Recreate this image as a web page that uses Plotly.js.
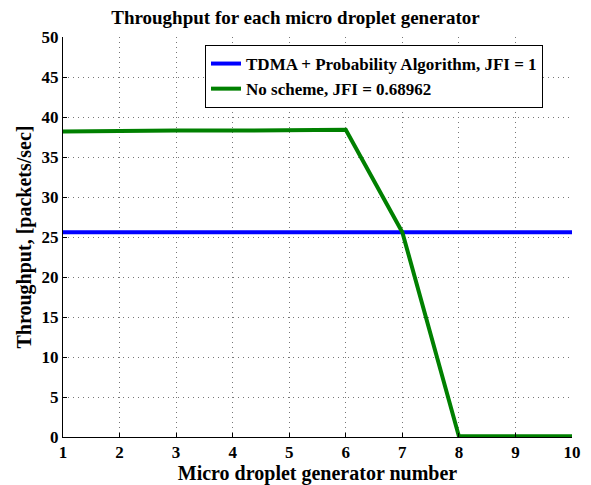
<!DOCTYPE html>
<html><head><meta charset="utf-8">
<script src="https://cdn.plot.ly/plotly-3.0.1.min.js"></script>
<style>body{margin:0;background:#fff}#c{width:591px;height:485px}</style>
</head><body><div id="c"></div>
<script>
const generators = [1,2,3,4,5,6,7,8,9,10];
const tdmaThroughput = [25.6,25.6,25.6,25.6,25.6,25.6,25.6,25.6,25.6,25.6];
const noSchemeThroughput = [38.2,38.3,38.3,38.3,38.3,38.4,25.6,0.1,0.1,0.1];
const xTicks = [1,2,3,4,5,6,7,8,9,10];
const yTicks = [0,5,10,15,20,25,30,35,40,45,50];
const F = 'Liberation Serif';
const traces = [
 {x:generators,y:tdmaThroughput,mode:'lines',name:'<b>TDMA + Probability Algorithm, JFI = 1</b>',line:{color:'#0000ff',width:4}},
 {x:generators,y:noSchemeThroughput,mode:'lines',name:'<b>No scheme, JFI = 0.68962</b>',line:{color:'#008000',width:4}}
];
const layout = {
 width:591,height:485,
 margin:{l:63,r:19,t:37,b:48},
 paper_bgcolor:'#fff',plot_bgcolor:'#fff',
 font:{family:F,color:'#000'},
 title:{text:'<b>Throughput for each micro droplet generator</b>',font:{size:19,family:F,color:'#000'},x:0.5,xanchor:'center',y:0.965,yanchor:'middle'},
 xaxis:{range:[1,10],tickvals:xTicks,ticktext:xTicks.map(v=>'<b>'+v+'</b>'),showgrid:true,gridcolor:'#777',griddash:'1px,4px',gridwidth:1,
   showline:true,linecolor:'#000',linewidth:1,ticks:'inside',ticklen:4,tickcolor:'#000',zeroline:false,
   tickfont:{size:17,family:F,color:'#000'},title:{text:'<b>Micro droplet generator number</b>',font:{size:20,family:F},standoff:0}},
 yaxis:{range:[0,50],tickvals:yTicks,ticktext:yTicks.map(v=>'<b>'+v+'</b>'),showgrid:true,gridcolor:'#777',griddash:'1px,4px',gridwidth:1,
   showline:true,linecolor:'#000',linewidth:1,ticks:'inside',ticklen:4,tickcolor:'#000',zeroline:false,
   tickfont:{size:17,family:F,color:'#000'},title:{text:'<b>Throughput, [packets/sec]</b>',font:{size:20,family:F},standoff:4}},
 legend:{x:0.279,y:0.98,xanchor:'left',yanchor:'top',bgcolor:'#fff',bordercolor:'#000',borderwidth:1,font:{size:17,family:F,color:'#000'},tracegroupgap:0},
 showlegend:true
};
Plotly.newPlot('c',traces,layout,{displayModeBar:false,staticPlot:true});
</script></body></html>
